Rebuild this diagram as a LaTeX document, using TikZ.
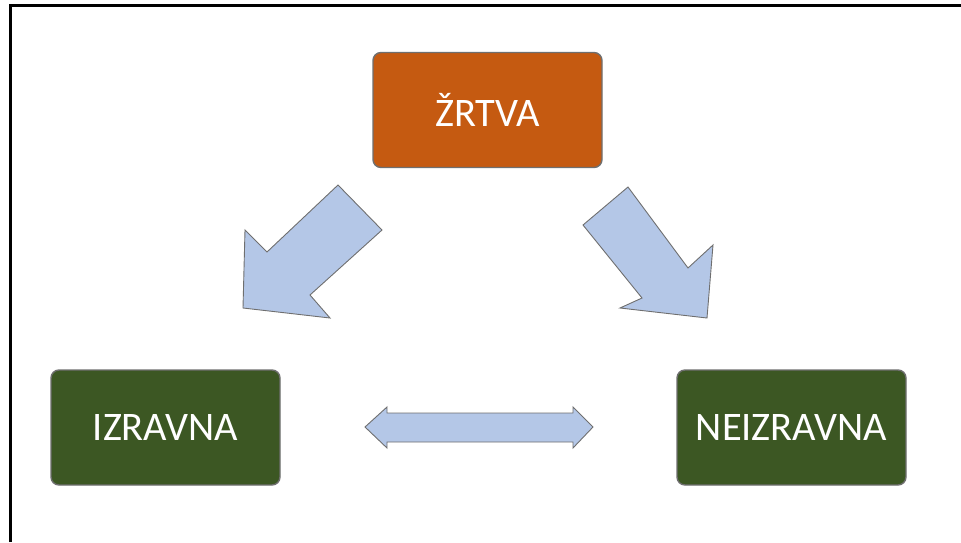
\documentclass[tikz,border=0pt]{standalone}
\usepackage{fontspec}
\setmainfont{Carlito}
\definecolor{orangebox}{HTML}{C55A11}
\definecolor{greenbox}{HTML}{3C5723}
\definecolor{arrowfill}{HTML}{B4C7E7}
\definecolor{boxedge}{HTML}{6F6F6F}
\begin{document}
\begin{tikzpicture}[x=1pt,y=-1pt,
  box/.style={draw=boxedge,line width=1.4pt,rounded corners=8pt,minimum width=229pt,minimum height=115pt,inner sep=0pt,text=white,font=\fontsize{40.5}{42}\selectfont},
  blockarrow/.style={draw=boxedge,line width=0.9pt,fill=arrowfill,line join=miter}]
\useasboundingbox (0,0) rectangle (961,542);
\draw[line width=3pt] (10,542) -- (10,5) -- (961,5);
\node[box,fill=orangebox] (zrtva) at (487.5,110) {ŽRTVA};
\node[box,fill=greenbox] (izravna) at (165.5,427.5) {IZRAVNA};
\node[box,fill=greenbox] (neizravna) at (791.5,427.5) {NEIZRAVNA};
% block arrows
\draw[blockarrow] (338,185) -- (382,230) -- (310,295) -- (330,318) -- (243,308) -- (245,230) -- (267,252) -- cycle;
\draw[blockarrow] (583,225) -- (628,187) -- (688,268) -- (713,245) -- (707,318) -- (620,308) -- (642,298) -- cycle;
\draw[blockarrow] (365,427) -- (387,407) -- (387,413) -- (573,413) -- (573,407) -- (593,427) -- (573,448) -- (573,442) -- (387,442) -- (387,448) -- cycle;
\end{tikzpicture}
\end{document}
